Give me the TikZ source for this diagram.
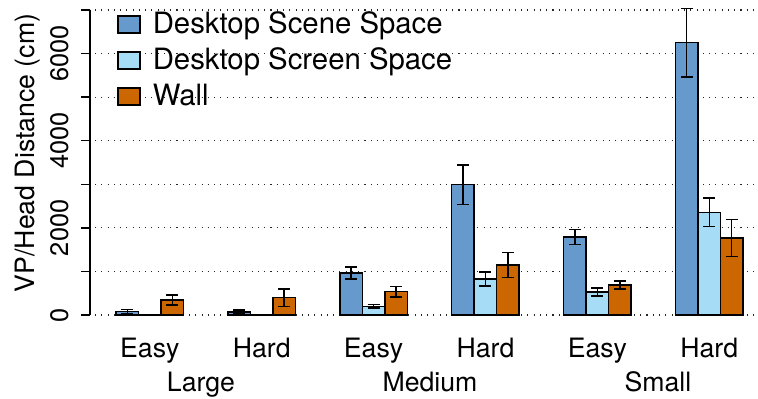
\documentclass[tikz,border=0pt]{standalone}
\usepackage{fontspec}
\setmainfont{TeX Gyre Heros}
\definecolor{scenebar}{HTML}{6699CC}
\definecolor{screenbar}{HTML}{A6DCF5}
\definecolor{wallbar}{HTML}{CC6600}
\newcommand{\vpscale}{0.043571}
\begin{document}
\begin{tikzpicture}[x=0.75pt,y=-0.75pt,
  bar/.style={draw=black,line width=1.1pt},
  errbar/.style={line width=1.1pt},
  grid line/.style={line width=0.8pt,dash pattern=on 0.8pt off 3.9pt,black!85},
  txt/.style={font=\fontsize{20}{24}\selectfont,inner sep=0pt},
  ticktxt/.style={font=\fontsize{19}{23}\selectfont,inner sep=0pt},
  legtxt/.style={font=\fontsize{22}{26}\selectfont,inner sep=0pt}]
  \useasboundingbox (0,0) rectangle (758,399);
  % grid lines
  \foreach \k in {0,...,7}
    \draw[grid line] (95,{315-\k*43.571}) -- (758,{315-\k*43.571});
  % axis
  \draw[line width=1.1pt] (90,10) -- (90,315);
  \foreach \k in {0,...,7}
    \draw[line width=1.1pt] (81,{315-\k*43.571}) -- (90,{315-\k*43.571});
  \foreach \v in {0,2000,4000,6000}
    \node[ticktxt,rotate=90,anchor=base] (tick\v) at (68,{315-\v*\vpscale}) {\v};
  \node[txt,rotate=90,anchor=base] (ylabel) at (35,153) {VP/Head Distance (cm)};
  % bars with error bars
  \foreach \x/\v/\e/\c in {
      116/75/55/scenebar, 138.5/10/5/screenbar, 161/344/115/wallbar,
      227.9/70/50/scenebar, 250.4/10/5/screenbar, 272.9/397/200/wallbar,
      339.8/964/138/scenebar, 362.3/200/35/screenbar, 384.8/535/125/wallbar,
      451.7/2990/450/scenebar, 474.2/826/165/screenbar, 496.7/1148/287/wallbar,
      563.6/1790/177/scenebar, 586.1/528/88/screenbar, 608.6/689/95/wallbar,
      675.5/6250/785/scenebar, 698/2357/325/screenbar, 720.5/1767/430/wallbar} {
    \pgfmathsetmacro{\ytop}{315-\v*\vpscale}
    \pgfmathsetmacro{\ehi}{315-(\v+\e)*\vpscale}
    \pgfmathsetmacro{\elo}{315-(\v-\e)*\vpscale}
    \draw[bar,fill=\c] (\x,315) rectangle (\x+22.5,\ytop);
    \draw[errbar] (\x+11.25,\ehi) -- (\x+11.25,\elo);
    \draw[errbar] (\x+5.25,\ehi) -- (\x+17.25,\ehi);
    \draw[errbar] (\x+5.25,\elo) -- (\x+17.25,\elo);
  }
  % category labels
  \foreach \x/\t [count=\i] in {149.8/Easy,261.7/Hard,373.6/Easy,485.5/Hard,597.4/Easy,709.3/Hard}
    \node[txt,anchor=base] (level\i) at (\x,357.7) {\t};
  \node[txt,anchor=base] (large) at (201,391.7) {Large};
  \node[txt,anchor=base] (medium) at (430,391.7) {Medium};
  \node[txt,anchor=base] (small) at (658,391.7) {Small};
  % legend
  \foreach \y/\c/\t in {16/scenebar/Desktop Scene Space,52/screenbar/Desktop Screen Space,88/wallbar/Wall} {
    \draw[bar,fill=\c] (118,\y) rectangle (140,\y+17);
    \node[legtxt,anchor=base west] at (152.5,\y+17.8) {\t};
  }
\end{tikzpicture}
\end{document}
